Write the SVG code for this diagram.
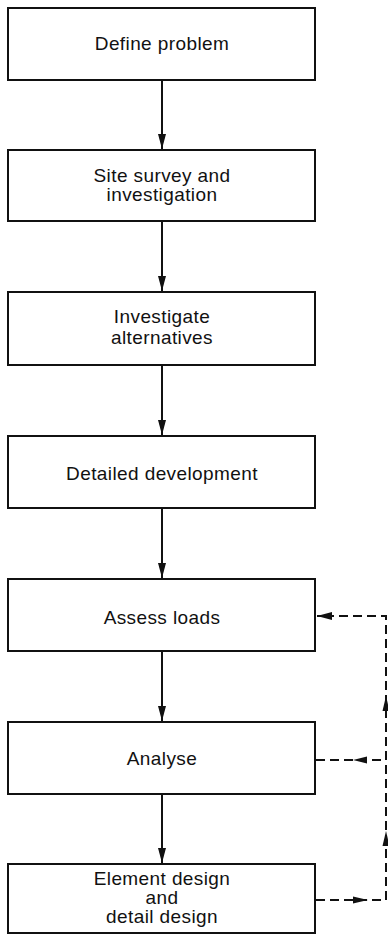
<svg xmlns="http://www.w3.org/2000/svg" width="388" height="935" viewBox="0 0 388 935">
<style>
.box{fill:#fff;stroke:#111;stroke-width:2}
.lbl{font-family:"Liberation Sans",Arial,sans-serif;font-size:19px;letter-spacing:0.4px;fill:#111;text-anchor:middle}
.flow{fill:none;stroke:#111;stroke-width:2}
.dash{fill:none;stroke:#111;stroke-width:2;stroke-dasharray:9 5}
.head{fill:#111}
</style>
<defs>
<marker id="ah" markerUnits="userSpaceOnUse" markerWidth="16" markerHeight="9" refX="15" refY="4.5" orient="auto">
<path d="M0,0.5 L15,4.5 L0,8.5 z" fill="#111"/>
</marker>
</defs>
<rect width="388" height="935" fill="#fff"/>
<g id="connectors">
<line class="flow" x1="162" y1="80" x2="162" y2="149" marker-end="url(#ah)"/>
<line class="flow" x1="162" y1="221" x2="162" y2="291" marker-end="url(#ah)"/>
<line class="flow" x1="162" y1="365" x2="162" y2="435" marker-end="url(#ah)"/>
<line class="flow" x1="162" y1="508" x2="162" y2="578" marker-end="url(#ah)"/>
<line class="flow" x1="162" y1="651" x2="162" y2="721" marker-end="url(#ah)"/>
<line class="flow" x1="162" y1="794" x2="162" y2="863" marker-end="url(#ah)"/>
<path class="dash" d="M316,900 H386 V616 H330"/>
<line class="flow" x1="330" y1="616" x2="317" y2="616" marker-end="url(#ah)"/>
<path class="dash" d="M316,760 H386"/>
<polygon class="head" points="367,756.5 353,760 367,763.5"/>
<polygon class="head" points="353,896.5 368,900 353,903.5"/>
<polygon class="head" points="382.5,711 386,696 389.5,711"/>
<polygon class="head" points="382.5,846 386,831 389.5,846"/>
</g>
<g id="n1"><rect class="box" x="8" y="8" width="307" height="72"/><text class="lbl" x="162" y="50">Define problem</text></g>
<g id="n2"><rect class="box" x="8" y="150" width="307" height="71"/><text class="lbl" x="162" y="182">Site survey and</text><text class="lbl" x="162" y="201">investigation</text></g>
<g id="n3"><rect class="box" x="8" y="292" width="307" height="73"/><text class="lbl" x="162" y="323">Investigate</text><text class="lbl" x="162" y="344">alternatives</text></g>
<g id="n4"><rect class="box" x="8" y="436" width="307" height="72"/><text class="lbl" x="162" y="480">Detailed development</text></g>
<g id="n5"><rect class="box" x="8" y="579" width="307" height="72"/><text class="lbl" x="162" y="624">Assess loads</text></g>
<g id="n6"><rect class="box" x="8" y="722" width="307" height="72"/><text class="lbl" x="162" y="765">Analyse</text></g>
<g id="n7"><rect class="box" x="8" y="864" width="307" height="69"/><text class="lbl" x="162" y="885">Element design</text><text class="lbl" x="162" y="904">and</text><text class="lbl" x="162" y="923">detail design</text></g>
</svg>
